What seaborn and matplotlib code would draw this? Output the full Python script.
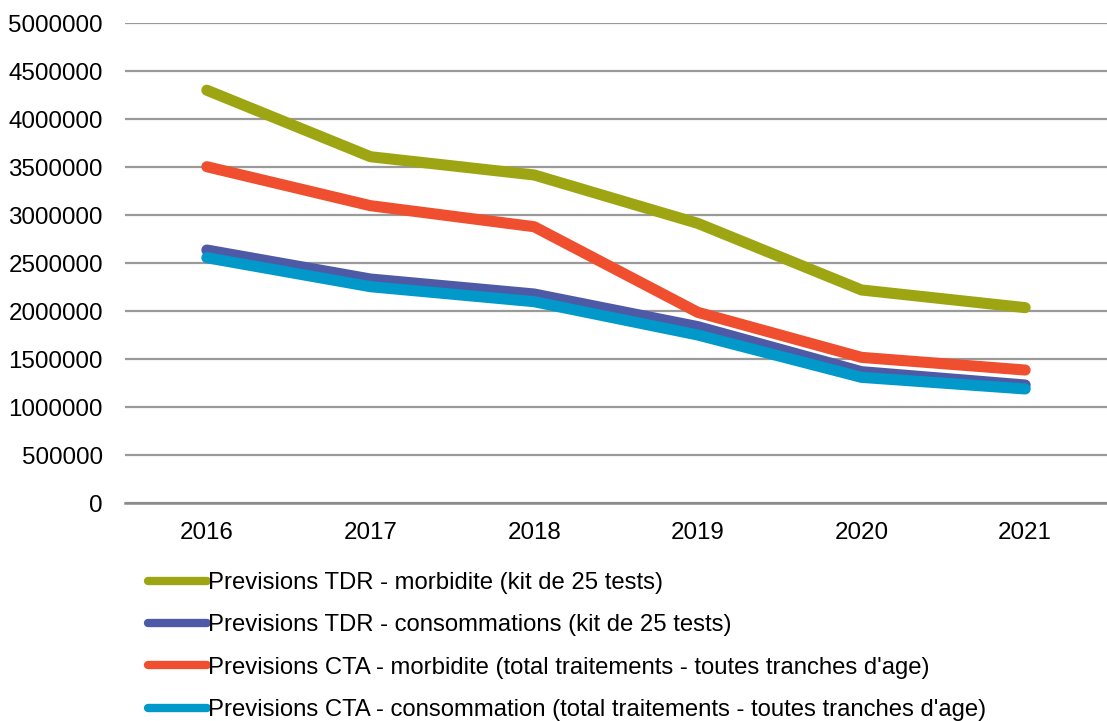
import matplotlib
matplotlib.use("Agg")
import matplotlib.pyplot as plt
import seaborn as sns
import pandas as pd

years = ["2016", "2017", "2018", "2019", "2020", "2021"]
tdr_morbidite = [4300000, 3607000, 3417000, 2913000, 2219000, 2035000]
tdr_consommations = [2635000, 2333000, 2177000, 1837000, 1368000, 1229000]
cta_morbidite = [3503000, 3097000, 2878000, 1986000, 1517000, 1385000]
cta_consommation = [2555000, 2253000, 2097000, 1750000, 1309000, 1188000]

series_names = [
    "Previsions TDR - morbidite (kit de 25 tests)",
    "Previsions TDR - consommations (kit de 25 tests)",
    "Previsions CTA - morbidite (total traitements - toutes tranches d'age)",
    "Previsions CTA - consommation (total traitements - toutes tranches d'age)",
]
series_values = [tdr_morbidite, tdr_consommations, cta_morbidite, cta_consommation]
colors = ["#9da612", "#4e5aa6", "#ef4f2e", "#0099c9"]

rows = []
for name, vals in zip(series_names, series_values):
    for i, (y, v) in enumerate(zip(years, vals)):
        rows.append({"idx": i, "year": y, "value": v, "series": name})
df = pd.DataFrame(rows)

sns.set_theme(style="white")
plt.rcParams["font.family"] = ["Liberation Sans", "DejaVu Sans"]
plt.rcParams["text.color"] = "black"

fig = plt.figure(figsize=(11.07, 7.21), dpi=100)
ax = fig.add_axes([125 / 1107, 1 - 503 / 721, 1 - 125 / 1107, (503 - 23) / 721])

sns.lineplot(data=df, x="idx", y="value", hue="series", hue_order=series_names,
             palette=colors, linewidth=8, ax=ax, legend=False,
             solid_capstyle="round", solid_joinstyle="round")

ax.set_xlim(-0.5, 5.5)
ax.set_ylim(0, 5000000)
ax.set_yticks(range(0, 5000001, 500000))
ax.set_yticklabels([str(v) for v in range(0, 5000001, 500000)])
ax.set_xticks(range(len(years)))
ax.set_xticklabels(years)
ax.set_xlabel("")
ax.set_ylabel("")
ax.yaxis.grid(True, color="#9a9a9a", linewidth=1.6)
ax.xaxis.grid(False)
ax.set_axisbelow(True)
for s in ["left", "right", "top"]:
    ax.spines[s].set_visible(False)
ax.spines["bottom"].set_color("#8a8a8a")
ax.spines["bottom"].set_linewidth(1.8)
ax.tick_params(axis="y", length=0, pad=16, labelsize=17.4, labelcolor="#000000")
ax.tick_params(axis="x", length=0, pad=14, labelsize=17.4, labelcolor="#000000")

handles = [plt.Line2D([0], [0], color=c, linewidth=6, solid_capstyle="round") for c in colors]
fig.legend(handles, series_names, loc="upper left", bbox_to_anchor=(148 / 1107, 1 - 572 / 721),
           frameon=False, fontsize=17.2, handlelength=2.45, handletextpad=0.08,
           labelspacing=0.85, borderpad=0, borderaxespad=0, labelcolor="black")

fig.savefig("out.png", dpi=100)
